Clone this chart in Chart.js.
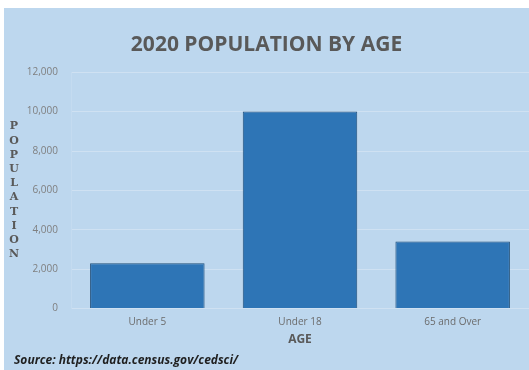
<!DOCTYPE html>
<html>
<head>
<meta charset="utf-8">
<script src="https://cdn.jsdelivr.net/npm/chart.js@4"></script>
<style>
    html, body { margin: 0; padding: 0; background: #ffffff; }
    #panel { position: absolute; left: 4px; top: 8px; width: 525px; height: 362px; background: #bdd7ee; }
</style>
</head>
<body>
<div id="panel"><canvas id="chart"></canvas></div>
<script>
const categories = ['Under 5', 'Under 18', '65 and Over'];
const population = [2300, 10000, 3400];
const yTicks = [0, 2000, 4000, 6000, 8000, 10000, 12000];
const sourceNote = 'Source: https://data.census.gov/cedsci/';

// stacked upright letters for the y title, plus the source line at the bottom
const sideText = {
    id: 'sideText',
    afterDraw(chart) {
        const ctx = chart.ctx;
        const letters = 'POPULATION'.split('');
        ctx.save();
        ctx.fillStyle = '#595959';
        ctx.font = 'bold 11px "DejaVu Serif", serif';
        ctx.textAlign = 'center';
        ctx.textBaseline = 'middle';
        const step = 14.2;
        const mid = (chart.chartArea.top + chart.chartArea.bottom) / 2;
        const start = mid - (letters.length - 1) * step / 2;
        letters.forEach((ch, i) => ctx.fillText(ch, 10, start + i * step));

        ctx.fillStyle = '#1f1f1f';
        ctx.font = 'italic bold 12px "Open Sans", sans-serif';
        ctx.textAlign = 'left';
        ctx.fillText(sourceNote, 10, chart.height - 9);
        ctx.restore();
    }
};

new Chart(document.getElementById('chart').getContext('2d'), {
    type: 'bar',
    data: {
        labels: categories,
        datasets: [
            {
                label: 'Population',
                data: population,
                backgroundColor: '#2e75b6',
                borderColor: '#1f4e79',
                borderWidth: 1,
                categoryPercentage: 0.75,
                barPercentage: 1
            }
        ]
    },
    options: {
        responsive: true,
        maintainAspectRatio: false,
        animation: false,
        layout: {
            padding: { left: 0, right: 0, top: 0, bottom: 23 }
        },
        plugins: {
            legend: { display: false },
            tooltip: { enabled: false },
            title: {
                display: true,
                text: '2020 POPULATION BY AGE',
                color: '#595959',
                font: { family: 'Open Sans', size: 21, weight: 'bold' },
                padding: { top: 24, bottom: 15 }
            }
        },
        scales: {
            x: {
                ticks: {
                    color: '#6b6b6b',
                    padding: 8,
                    font: { family: 'Open Sans', size: 10 }
                },
                grid: { display: false, drawTicks: false },
                border: { display: false },
                title: {
                    display: true,
                    text: 'AGE',
                    color: '#595959',
                    font: { family: 'Open Sans', size: 12, weight: 'bold' },
                    padding: { top: -4, bottom: 0 }
                }
            },
            y: {
                min: 0,
                max: 12000,
                afterBuildTicks: (axis) => {
                    axis.ticks = yTicks.map((value) => ({ value }));
                },
                afterFit: (axis) => {
                    axis.width = 67;
                },
                ticks: {
                    color: '#7f7f7f',
                    padding: 13,
                    font: { family: 'Open Sans', size: 10 },
                    callback: (value) => value.toLocaleString('en-US')
                },
                grid: {
                    color: '#cfe1f2',
                    drawTicks: false
                },
                border: { display: true, color: '#c4dbf0' }
            }
        }
    },
    plugins: [sideText]
});
</script>
</body>
</html>
